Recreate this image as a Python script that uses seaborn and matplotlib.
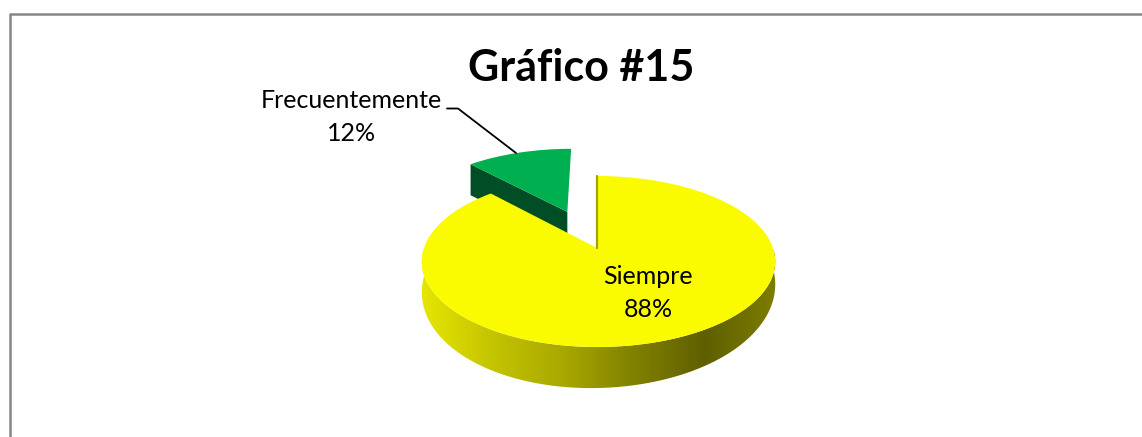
import numpy as np
import seaborn as sns
import matplotlib
matplotlib.use('Agg')
import matplotlib.pyplot as plt
from matplotlib.colors import LinearSegmentedColormap
from matplotlib.patches import PathPatch, Polygon
from matplotlib.path import Path

categorias = ['Siempre', 'Frecuentemente']
valores = [88, 12]
separacion = [0, 0.5]
titulo = 'Gráfico #15'

sns.set_style('white')
plt.rcParams['font.family'] = ['Lato', 'DejaVu Sans']
colores = sns.color_palette(['#fbfb00', '#00b050'])


# fake 3D: tilt the flat pie into screen pixels
def proyectar(xy):
    xy = np.asarray(xy)
    den = 1 + 0.158 * xy[:, 1]
    ancho = np.where(xy[:, 0] > 0, 176, 173)
    return np.column_stack([597 + ancho * xy[:, 0] / den,
                            (248 - 44.2 * xy[:, 1]) / den])


fig = plt.figure(figsize=(11.42, 4.37), dpi=100)
ax = fig.add_axes([0, 0, 1, 1])
wedges, _ = ax.pie(valores, explode=separacion, colors=colores, startangle=90,
                   counterclock=False, radius=1)
amarillo, verde = wedges
ax.set_aspect('auto')
ax.set_xlim(0, 1142)
ax.set_ylim(437, 0)
ax.axis('off')

# chart frame, cropped on the right and at the bottom
ax.plot([9.5, 9.5, 1142], [437, 13.5, 13.5], color='#868686', lw=1.8, zorder=1)

# green slice
cx, cy = verde.center
ang = np.radians(verde.theta2)
esq = proyectar([[cx, cy], [cx + np.cos(ang), cy + np.sin(ang)]])
ax.add_patch(Polygon(np.vstack([esq, esq[::-1] + [0, 31]]), fc='#004d26', ec='none', zorder=2))
ax.add_patch(PathPatch(Path(proyectar(verde.get_path().vertices), verde.get_path().codes),
                       fc=colores[1], ec='none', zorder=3))

# yellow wall, dark towards the right
t = np.radians(np.linspace(172, 368, 200))
borde = proyectar(np.column_stack([np.cos(t), np.sin(t)]))
prof = 24 - 17 * np.sin(t) - 4 * np.cos(t)
abajo = borde + np.column_stack([np.zeros_like(t), prof])
pared = Polygon(np.vstack([borde, abajo[::-1]]), fc='none', ec='none', zorder=4)
ax.add_patch(pared)
cmap = LinearSegmentedColormap.from_list('pared', ['#e6e600', '#c4c400', '#a8a800',
                                                   '#808000', '#5f5f00', '#7d7d00'])
img = ax.imshow(np.linspace(0, 1, 256).reshape(1, -1), cmap=cmap, aspect='auto',
                extent=[421, 777, 400, 250], zorder=4)
img.set_clip_path(pared)
ax.set_aspect('auto')
ax.set_xlim(0, 1142)
ax.set_ylim(437, 0)

# yellow top
ax.add_patch(PathPatch(Path(proyectar(amarillo.get_path().vertices), amarillo.get_path().codes),
                       fc=colores[0], ec='none', zorder=5))
ax.plot([597, 597], [176, 248], color='#a3a300', lw=1.6, zorder=6)
amarillo.remove()
verde.remove()

ax.plot([447, 458, 516], [108.5, 108.5, 153], color='black', lw=1.3, zorder=6)

ax.text(581, 68, titulo, ha='center', va='center', fontsize=31, fontweight='bold', color='black')
ax.text(351.5, 117, f'{categorias[1]}\n{valores[1]}%', ha='center', va='center', fontsize=18,
        linespacing=1.55, color='black')
ax.text(648, 293, f'{categorias[0]}\n{valores[0]}%', ha='center', va='center', fontsize=18,
        linespacing=1.55, color='black', zorder=7)

fig.savefig('out.png', dpi=100)
